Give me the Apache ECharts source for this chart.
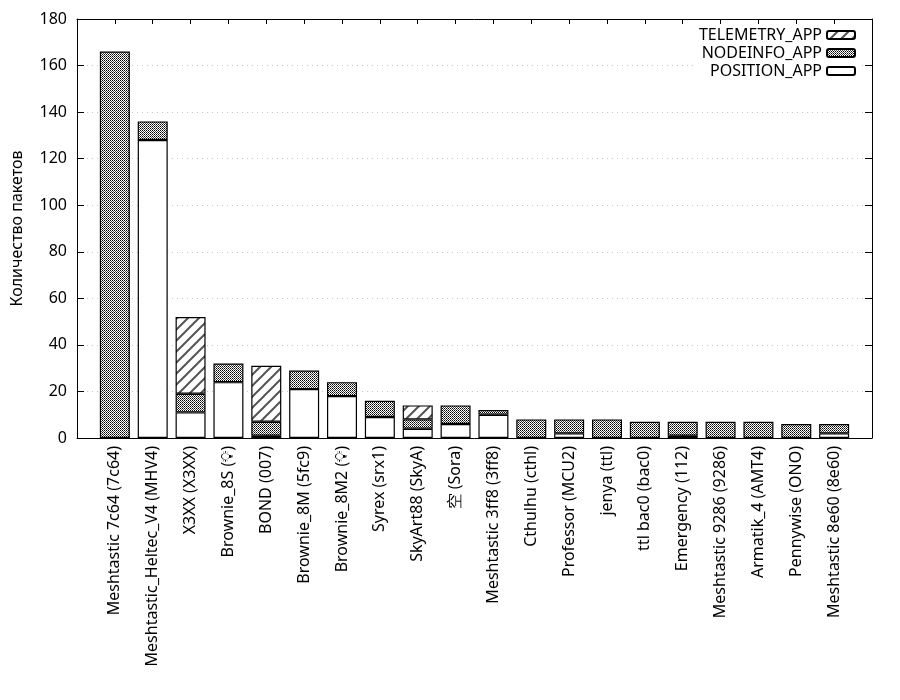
<!DOCTYPE html>
<html>
<head>
<meta charset="utf-8">
<script src="https://cdn.jsdelivr.net/npm/echarts@6/dist/echarts.min.js"></script>
<style>html,body{margin:0;padding:0;background:#fff}#c{width:900px;height:700px}</style>
</head>
<body>
<div id="c"></div>
<script>
const categories = ["Meshtastic 7c64 (7c64)", "Meshtastic_Heltec_V4 (MHV4)", "X3XX (X3XX)", "Brownie_8S (\u{1F4A1}\uFE0E)", "BOND (007)", "Brownie_8M (5fc9)", "Brownie_8M2 (\u{1F4A1}\uFE0E)", "Syrex (srx1)", "SkyArt88 (SkyA)", "空 (Sora)", "Meshtastic 3ff8 (3ff8)", "Cthulhu (cthl)", "Professor (MCU2)", "jenya (ttl)", "ttl bac0 (bac0)", "Emergency (112)", "Meshtastic 9286 (9286)", "Armatik_4 (AMT4)", "Pennywise (ONO)", "Meshtastic 8e60 (8e60)"];
const positionApp  = [0, 128, 11, 24, 1, 21, 18, 9, 4, 6, 10, 0, 2, 0, 0, 1, 0, 0, 0, 2];
const nodeinfoApp  = [166, 8, 8, 8, 6, 8, 6, 7, 4, 8, 2, 8, 6, 8, 7, 6, 7, 7, 6, 4];
const telemetryApp = [0, 0, 33, 0, 24, 0, 0, 0, 6, 0, 0, 0, 0, 0, 0, 0, 0, 0, 0, 0];

function crossPattern() {
  const c = document.createElement('canvas'); c.width = 4; c.height = 4;
  const g = c.getContext('2d');
  g.fillStyle = '#fff'; g.fillRect(0, 0, 4, 4);
  g.fillStyle = '#000';
  [[0,0],[2,2],[0,2],[2,0]].forEach(p => g.fillRect(p[0], p[1], 1, 1));
  g.fillStyle = '#4a4a4a';
  [[1,1],[3,3],[1,3],[3,1]].forEach(p => g.fillRect(p[0], p[1], 1, 1));
  return c;
}
function hatchPattern() {
  const s = 11;
  const c = document.createElement('canvas'); c.width = s; c.height = s;
  const g = c.getContext('2d');
  g.fillStyle = '#fff'; g.fillRect(0, 0, s, s);
  g.strokeStyle = '#555'; g.lineWidth = 2;
  g.beginPath();
  g.moveTo(-1, s + 1); g.lineTo(s + 1, -1);
  g.moveTo(-1, 1); g.lineTo(1, -1);
  g.moveTo(s - 1, s + 1); g.lineTo(s + 1, s - 1);
  g.stroke();
  return c;
}

// one empty slot on each side of the categories (the plot's x range runs from -1 to N)
const axisCats = [''].concat(categories, ['']);
const pad = arr => [null].concat(arr.map(v => v === 0 ? null : v), [null]);

const FONT = 'Noto Sans';
const FS = 16;
const chart = echarts.init(document.getElementById('c'));
const barStyle = (color) => ({ color: color, borderColor: '#000', borderWidth: 1.2 });

chart.setOption({
  animation: false,
  textStyle: { fontFamily: FONT, color: '#000' },
  grid: { left: 77, right: 28, top: 19, bottom: 262 },
  legend: {
    orient: 'vertical', right: 40, top: 25, align: 'right',
    itemWidth: 28, itemHeight: 8, itemGap: 2,
    backgroundColor: '#fff', padding: [2, 4, 2, 4], z: 4,
    textStyle: { fontFamily: FONT, fontSize: FS, color: '#000' },
    data: ['TELEMETRY_APP', 'NODEINFO_APP', 'POSITION_APP']
  },
  xAxis: [{
    type: 'category', data: axisCats, boundaryGap: false,
    axisLine: { show: true, onZero: false, lineStyle: { color: '#000', width: 1 } },
    axisTick: { show: true, inside: true, length: 5, interval: 0, lineStyle: { color: '#000' } },
    splitLine: { show: false },
    axisLabel: { rotate: 90, margin: 8, fontSize: FS, color: '#000', fontFamily: FONT, interval: 0 }
  }, {
    type: 'category', data: axisCats, boundaryGap: false, position: 'top', z: 10,
    axisLine: { show: true, onZero: false, lineStyle: { color: '#000', width: 1 } },
    axisTick: { show: true, inside: true, length: 5, interval: 0, lineStyle: { color: '#000' } },
    axisLabel: { show: false }, splitLine: { show: false }
  }],
  yAxis: [{
    type: 'value', min: 0, max: 180, interval: 20,
    name: 'Количество пакетов', nameLocation: 'middle', nameGap: 52,
    nameTextStyle: { fontFamily: FONT, fontSize: FS, color: '#000' },
    axisLine: { show: true, onZero: false, lineStyle: { color: '#000', width: 1 } },
    axisTick: { show: true, inside: true, length: 7, lineStyle: { color: '#000' } },
    axisLabel: { fontSize: FS, color: '#000', margin: 10, fontFamily: FONT },
    splitLine: { show: true, lineStyle: { color: '#c8c8c8', type: [1, 4], width: 1 } }
  }, {
    type: 'value', min: 0, max: 180, interval: 20, position: 'right', z: 10,
    axisLine: { show: true, onZero: false, lineStyle: { color: '#000', width: 1 } },
    axisTick: { show: true, inside: true, length: 7, lineStyle: { color: '#000' } },
    axisLabel: { show: false }, splitLine: { show: false }
  }],
  series: [
    { name: 'POSITION_APP', type: 'bar', stack: 'a', barWidth: 30,
      itemStyle: barStyle('#fff'), data: pad(positionApp) },
    { name: 'NODEINFO_APP', type: 'bar', stack: 'a', barWidth: 30,
      itemStyle: barStyle({ image: crossPattern(), repeat: 'repeat' }), data: pad(nodeinfoApp) },
    { name: 'TELEMETRY_APP', type: 'bar', stack: 'a', barWidth: 30,
      itemStyle: barStyle({ image: hatchPattern(), repeat: 'repeat' }), data: pad(telemetryApp) }
  ]
});
</script>
</body>
</html>
